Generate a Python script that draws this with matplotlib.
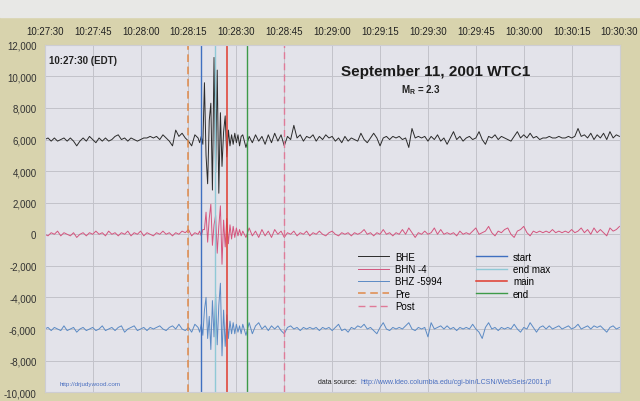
import numpy as np
import matplotlib
matplotlib.use("Agg")
from matplotlib import pyplot as plt
from matplotlib.ticker import FuncFormatter

plt.rcParams['font.family'] = ['Liberation Sans', 'DejaVu Sans']

# seconds after 10:27:30, 1 s steps, 0.5 s through the burst
t = np.concatenate([np.arange(0, 48, 1.0), np.arange(48, 62, 0.5), np.arange(62, 181, 1.0)])

# trace deviations in hundreds of counts
bhe = [0, 1, -1, 1, -1, 0, 1, -1, 1, -1, -4, -1,
       1, -1, 2, 0, -2, 1, -1, 1, -1, 0, 2, 3,
       0, 1, -1, 1, 0, -1, 0, 1, 1, 2, 1, 2,
       0, 3, 1, -1, -4, 6, 2, 4, 1, -1, -4, 3,
       1, -2, 2, -3, 36, -10, -28, 12, 23, -32, 52, -21, 44, -34,
       17, -17, 5, 15, -11, 6, -4, 3, -3, 4, -2, 3, -4, 2,
       3, -5, 2, -2, 3, -1, 2, -3, 3, -2,
       4, -1, 3, -4, 2, 0, 9, 1, 3, -1,
       2, 1, 3, -1, 2, 0, 3, 1, 2, -1,
       1, -2, 2, -1, 1, 0, -1, 4, 0, -2,
       1, 4, 1, -4, 1, 2, 0, 2, 1, 2,
       0, 1, -5, 7, 1, 2, 1, 2, -1, 2,
       0, 3, -1, 1, -3, 1, 5, 0, 2, -1,
       1, 2, 0, 1, 5, 0, -3, 2, 1, 3,
       0, 2, 1, 0, -1, 2, 5, 1, 3, 1,
       4, 1, 2, 0, 1, 1, 2, 1, 1, 2,
       1, 1, 2, 1, 2, 7, 2, 3, 1, 4,
       0, 3, 1, 4, 0, 5, 1, 3, 2]

bhn = [0, -1, 1, 0, 2, -1, 1, 0, -1, 1, -2, 0,
       1, -1, 1, 0, 2, 0, 1, -1, 2, 0, 1, -1,
       1, 0, 2, -1, 1, 0, 2, -1, 1, 0, -1, 1,
       0, 2, 0, 1, -1, 1, 0, 2, 1, 3, -1, 1,
       0, 2, -1, 3, 3, 14, -5, 10, 19, -7, 6, 12, -12, 5,
       18, -19, 9, -8, 10, -6, 6, -3, 5, -2, 4, -1, 3, -1,
       2, -2, 4, -1, 2, -2, 3, -1, 2, -2,
       3, 0, 2, -2, 1, 0, 2, -1, 1, 0,
       2, -1, 1, 0, 2, 0, -1, 1, 2, 0,
       -1, 1, 0, 1, -1, 1, 0, 1, 3, 0,
       1, -1, 1, 0, 3, 0, 1, -1, 1, 0,
       3, 0, 4, 1, -2, 1, 0, 2, 0, 1,
       4, 0, 3, 0, 1, 0, 1, -1, 2, 0,
       1, 0, 2, 4, 0, 1, 2, 5, 1, -1,
       2, 1, 3, 4, 0, -2, 2, 3, 5, 1,
       -1, 2, 1, 2, 1, 2, 1, 3, 1, 2,
       1, 2, 1, 3, 1, 2, 4, 1, 3, 0,
       4, 1, 3, 1, -1, 4, 2, 3, 5]

bhz = [0, 1, -1, 1, 0, -1, 2, -1, 0, 1, -2, 0,
       1, -1, 0, 1, -1, 0, 2, -1, 0, 1, -1, 1,
       2, -2, 0, 1, 2, -1, 0, 1, -1, 1, 0, 1,
       2, 0, -1, 1, 2, 0, 3, 0, -1, 1, -2, 3,
       1, -2, 3, -4, 12, 20, -6, 8, -13, 18, -5, 22, -10, 15,
       29, -17, 12, -11, 9, -6, 5, -3, 4, -3, 3, -2, 2, -3,
       3, -4, 4, -3, 2, 4, 0, 2, -1, 2,
       0, 2, -1, -3, 1, 2, 0, 1, -1, 1,
       0, 1, 0, 1, -1, 1, 0, 1, -1, 1,
       3, -1, 0, -2, 1, 0, 2, 1, 3, 0,
       1, -1, -3, 1, 4, 0, -1, 1, 0, 1,
       0, 2, 4, 0, -1, 1, 0, 1, -5, 4,
       0, 1, 2, 0, 2, 0, 1, -1, 1, 0,
       1, 0, 3, 0, -2, -6, 1, 4, 0, 1,
       -1, 1, 0, 1, 0, 3, 0, -2, 1, 0,
       4, 1, -2, 1, 2, 0, 2, 0, 1, 2,
       0, 1, 2, 0, 1, 3, 0, 1, 2, 0,
       2, 1, 2, 0, -2, 1, 2, 0, 1]

bases = [6000, 0, -6000]

# marker times (s after 10:27:30)
pre_t, start_t, endmax_t, main_t, end_t, post_t = 45, 48.8, 53.3, 57.1, 63.2, 75

tick_t = [0, 15, 30, 45, 60, 75, 90, 105, 120, 135, 150, 165, 180]
tick_labels = ['10:27:30', '10:27:45', '10:28:00', '10:28:15', '10:28:30', '10:28:45',
               '10:29:00', '10:29:15', '10:29:30', '10:29:45', '10:30:00', '10:30:15', '10:30:30']

fig = plt.figure(figsize=(6.4, 4.02), dpi=100, facecolor='#d8d3ad')
fig.patches.append(plt.Rectangle((0, 0.955), 1, 0.045, transform=fig.transFigure,
                                 color='#e8e8e6', zorder=0))
ax = fig.add_axes([0.070, 0.022, 0.898, 0.864])
ax.set_facecolor('#e3e3ea')

l1, = ax.plot(t, np.array(bhe) * 100 + bases[0], color='#2b2b2b', lw=0.7, label='BHE')
l2, = ax.plot(t, np.array(bhn) * 100 + bases[1], color='#d4557e', lw=0.7, label='BHN -4')
l3, = ax.plot(t, np.array(bhz) * 100 + bases[2], color='#5b8ac4', lw=0.7, label='BHZ -5994')

v1 = ax.axvline(pre_t, color='#e08a4a', lw=1.1, ls=(0, (5, 3)), label='Pre')
v2 = ax.axvline(post_t, color='#e07a98', lw=1.0, ls=(0, (5, 3)), label='Post')
v3 = ax.axvline(start_t, color='#3f6fc0', lw=1.0, label='start')
v4 = ax.axvline(endmax_t, color='#8fc9d6', lw=1.0, label='end max')
v5 = ax.axvline(main_t, color='#e03a2e', lw=1.1, label='main')
v6 = ax.axvline(end_t, color='#3d9a48', lw=1.0, label='end')

ax.set_xlim(0, 180)
ax.set_ylim(-10000, 12000)
ax.set_yticks(range(-10000, 12001, 2000))
ax.yaxis.set_major_formatter(FuncFormatter(lambda v, p: f'{int(v):,}'))
ax.set_xticks(tick_t)
ax.set_xticklabels(tick_labels)
ax.xaxis.tick_top()
ax.tick_params(axis='x', length=0, pad=6, labelsize=7, colors='#222222')
ax.tick_params(axis='y', length=0, pad=6, labelsize=7, colors='#333333')
ax.grid(True, color='#c2c2ca', lw=0.7)
for s in ax.spines.values():
    s.set_color('#cdcdd3')

ax.text(0.008, 0.957, '10:27:30 (EDT)', transform=ax.transAxes, fontsize=7,
        fontweight='bold', color='#222222', va='center')
ax.text(0.68, 0.926, 'September 11, 2001 WTC1', transform=ax.transAxes, fontsize=11,
        fontweight='bold', color='#1a1a1a', ha='center', va='center')
ax.text(0.655, 0.872, r'M$_\mathregular{R}$ = 2.3', transform=ax.transAxes, fontsize=7,
        fontweight='bold', color='#222222', ha='center', va='center')

ax.legend(handles=[l1, l2, l3, v1, v2, v3, v4, v5, v6], ncol=2, frameon=False,
          loc='upper left', bbox_to_anchor=(0.53, 0.43), fontsize=7,
          handlelength=3.2, labelspacing=0.25, columnspacing=3.5, handletextpad=0.6)

ax.text(0.025, 0.025, 'http://drjudywood.com', transform=ax.transAxes, fontsize=4.5,
        color='#4a6fc0', va='center')
ax.text(0.543, 0.032, 'data source:', transform=ax.transAxes, fontsize=5,
        color='#222222', va='center', ha='right')
ax.text(0.549, 0.032, 'http://www.ldeo.columbia.edu/cgi-bin/LCSN/WebSeis/2001.pl',
        transform=ax.transAxes, fontsize=5, color='#4a6fc0', va='center')

plt.savefig('out.png', dpi=100, facecolor=fig.get_facecolor())
